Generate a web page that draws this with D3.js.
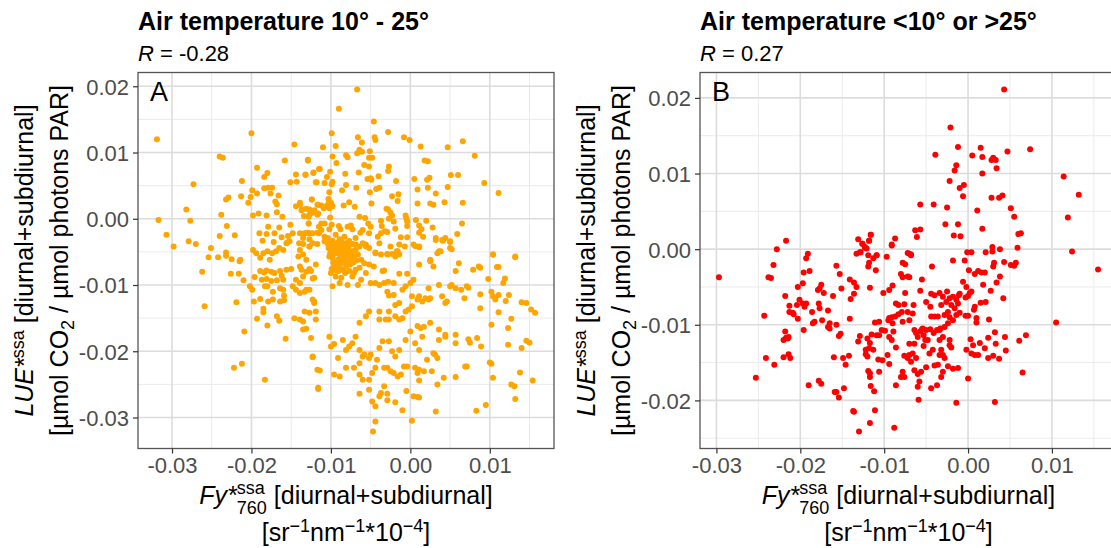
<!DOCTYPE html>
<html>
<head>
<meta charset="utf-8">
<script src="https://cdn.jsdelivr.net/npm/d3@7"></script>
<style>
  body { margin: 0; background: #fff; }
  svg { font-family: "Liberation Sans", Arial, sans-serif; }
</style>
</head>
<body>
<svg id="chart" width="1111" height="548"></svg>
<script>
// tick values and labels
const xTicks = [-0.03, -0.02, -0.01, 0, 0.01];
const xMinor = [-0.025, -0.015, -0.005, 0.005, 0.015];
const yTicksA = [-0.03, -0.02, -0.01, 0, 0.01, 0.02];
const yTicksB = [-0.02, -0.01, 0, 0.01, 0.02];
const yMinor = [-0.025, -0.015, -0.005, 0.005, 0.015];
const titles = ["Air temperature 10° - 25°", "Air temperature <10° or >25°"];
const rValues = ["-0.28", "0.27"];
const letters = ["A", "B"];

// panel A: [Fy*, LUE*]
const pointsA = [
  [-0.0319,0.0120],[-0.0317,-0.0002],[-0.0307,-0.0024],[-0.0282,0.0014],[-0.0277,-0.0003],[-0.0273,0.0052],
  [-0.0240,0.0094],[-0.0236,0.0092],[-0.0238,0.0006],[-0.0232,0.0029],[-0.0229,0.0032],[-0.0240,-0.0026],
  [-0.0231,-0.0011],[-0.0221,-0.0025],[-0.0213,0.0034],[-0.0212,0.0057],[-0.0200,0.0129],[-0.0204,0.0024],
  [-0.0201,0.0033],[-0.0199,0.0043],[-0.0193,0.0077],[-0.0198,0.0005],[-0.0191,0.0008],[-0.0193,0.0038],
  [-0.0184,0.0063],[-0.0180,0.0069],[-0.0184,0.0046],[-0.0179,0.0047],[-0.0174,0.0047],[-0.0176,0.0038],
  [-0.0170,0.0026],[-0.0166,0.0035],[-0.0168,0.0022],[-0.0181,0.0005],[-0.0168,0.0010],[-0.0161,0.0003],
  [-0.0179,-0.0012],[-0.0190,-0.0022],[-0.0181,-0.0023],[-0.0165,-0.0013],[-0.0171,-0.0022],[-0.0186,-0.0033],
  [-0.0172,-0.0035],[-0.0162,-0.0028],[-0.0154,-0.0026],[-0.0155,-0.0036],[-0.0158,0.0088],[-0.0146,0.0112],
  [-0.0144,0.0067],[-0.0143,0.0056],[-0.0151,0.0055],[-0.0132,0.0066],[-0.0129,0.0089],[-0.0122,0.0069],
  [-0.0119,0.0055],[-0.0115,0.0075],[-0.0124,0.0029],[-0.0144,0.0019],[-0.0139,0.0021],[-0.0137,0.0013],
  [-0.0127,0.0014],[-0.0123,0.0009],[-0.0117,0.0021],[-0.0117,0.0006],[-0.0128,0.0003],[-0.0121,0.0012],
  [-0.0151,-0.0009],[-0.0148,-0.0022],[-0.0128,-0.0007],[-0.0139,-0.0022],[-0.0133,-0.0022],[-0.0128,-0.0022],
  [-0.0123,-0.0022],[-0.0117,-0.0021],[-0.0135,-0.0029],[-0.0127,-0.0031],[-0.0140,-0.0037],[-0.0135,-0.0038],
  [-0.0127,-0.0042],[-0.0117,-0.0038],
  [-0.0067,0.0195],[-0.0090,0.0166],[-0.0046,0.0147],[-0.0099,0.0129],[-0.0028,0.0131],[-0.0066,0.0123],
  [-0.0061,0.0115],[-0.0045,0.0123],[-0.0044,0.0119],[-0.0008,0.0123],[-0.0001,0.0119],[0.0013,0.0109],
  [0.0047,0.0108],[0.0066,0.0117],[0.0081,0.0095],[-0.0110,0.0108],[-0.0094,0.0110],[-0.0098,0.0094],
  [-0.0129,0.0088],[-0.0081,0.0096],[-0.0079,0.0093],[-0.0067,0.0099],[-0.0064,0.0104],[-0.0061,0.0101],
  [-0.0051,0.0102],[-0.0052,0.0092],[-0.0048,0.0092],[-0.0093,0.0084],[-0.0058,0.0081],[-0.0052,0.0079],
  [-0.0027,0.0079],[-0.0028,0.0072],[0.0018,0.0088],[0.0022,0.0087],[-0.0132,0.0067],[-0.0122,0.0070],
  [-0.0114,0.0075],[-0.0118,0.0055],[-0.0105,0.0063],[-0.0101,0.0071],[-0.0108,0.0054],[-0.0099,0.0052],
  [-0.0098,0.0056],[-0.0082,0.0068],[-0.0065,0.0070],[-0.0081,0.0051],[-0.0068,0.0047],[-0.0086,0.0043],
  [-0.0054,0.0060],[-0.0050,0.0061],[-0.0049,0.0059],[-0.0040,0.0064],[-0.0018,0.0057],[-0.0051,0.0040],
  [-0.0043,0.0045],[-0.0039,0.0047],[0.0005,0.0060],[0.0021,0.0059],[0.0024,0.0062],[0.0009,0.0044],
  [0.0022,0.0047],[0.0032,0.0038],[0.0047,0.0048],[0.0051,0.0066],[0.0060,0.0066],[0.0093,0.0054],
  [0.0111,0.0039],[-0.0102,0.0040],[-0.0103,0.0030],[-0.0124,0.0029],[-0.0139,0.0024],[-0.0136,0.0014],
  [-0.0131,0.0015],[-0.0121,0.0013],[-0.0116,0.0021],[-0.0112,0.0020],[-0.0109,0.0016],[-0.0106,0.0019],
  [-0.0103,0.0023],[-0.0100,0.0024],[-0.0098,0.0019],[-0.0102,0.0016],[-0.0084,0.0020],[-0.0077,0.0025],
  [-0.0070,0.0018],[-0.0049,0.0023],[-0.0023,0.0034],[-0.0015,0.0037],[-0.0016,0.0027],[-0.0030,0.0015],
  [-0.0028,0.0014],[-0.0025,0.0009],[-0.0023,0.0005],[-0.0027,0.0000],[0.0009,0.0023],[0.0025,0.0023],
  [0.0029,0.0021],[0.0043,0.0025],[0.0066,0.0024],[-0.0006,0.0005],[-0.0005,0.0000],[-0.0101,0.0002],
  [-0.0127,0.0006],[-0.0134,0.0004],[-0.0116,0.0008],[-0.0064,0.0003],[-0.0057,0.0001],[-0.0053,-0.0007],
  [-0.0050,-0.0012],[-0.0037,-0.0003],[-0.0036,-0.0011],[-0.0021,-0.0004],[-0.0004,-0.0004],[-0.0004,-0.0011],
  [0.0007,-0.0002],[0.0011,-0.0010],[0.0014,-0.0016],[0.0020,-0.0003],[0.0028,-0.0013],[0.0065,-0.0007],
  [-0.0128,-0.0007],[-0.0115,-0.0012],[-0.0112,-0.0007],[-0.0108,-0.0007],[-0.0099,-0.0009],[-0.0090,-0.0011],
  [-0.0088,-0.0016],[-0.0079,-0.0012],[-0.0073,-0.0016],[-0.0075,-0.0010],[-0.0063,-0.0021],[-0.0060,-0.0017],
  [-0.0052,-0.0022],[-0.0041,-0.0027],[-0.0037,-0.0022],[-0.0032,-0.0019],[-0.0029,-0.0020],[-0.0019,-0.0015],
  [-0.0012,-0.0028],[-0.0004,-0.0028],[0.0011,-0.0021],[0.0016,-0.0027],[0.0006,-0.0041],[0.0011,-0.0043],
  [0.0032,-0.0029],[0.0041,-0.0033],[0.0044,-0.0029],[0.0050,-0.0035],[0.0059,-0.0023],[-0.0135,-0.0023],
  [-0.0130,-0.0021],[-0.0127,-0.0022],[-0.0115,-0.0022],[-0.0112,-0.0017],[-0.0102,-0.0016],
  [0.0025,-0.0062],[0.0036,-0.0049],[0.0052,-0.0046],[0.0104,-0.0054],[0.0132,-0.0057],[-0.0017,-0.0049],
  [-0.0014,-0.0054],[-0.0029,-0.0053],[-0.0044,-0.0051],[-0.0056,-0.0042],[-0.0069,-0.0039],[-0.0081,-0.0042],
  [-0.0098,-0.0039],
  [-0.0298,-0.0042],[-0.0279,-0.0034],[-0.0270,-0.0038],[-0.0251,-0.0044],[-0.0254,-0.0058],[-0.0242,-0.0058],
  [-0.0232,-0.0051],[-0.0232,-0.0056],[-0.0225,-0.0061],[-0.0215,-0.0064],[-0.0214,-0.0062],[-0.0262,-0.0080],
  [-0.0226,-0.0083],[-0.0216,-0.0083],[-0.0210,-0.0093],[-0.0259,-0.0132],[-0.0219,-0.0126],[-0.0209,-0.0170],
  [-0.0222,-0.0225],[-0.0212,-0.0219],[-0.0183,-0.0243],[-0.0202,-0.0102],[-0.0199,-0.0107],
  [-0.0198,-0.0047],[-0.0194,-0.0052],[-0.0189,-0.0059],[-0.0185,-0.0052],[-0.0180,-0.0049],[-0.0177,-0.0062],
  [-0.0174,-0.0052],[-0.0169,-0.0049],[-0.0165,-0.0044],[-0.0160,-0.0047],[-0.0156,-0.0037],[-0.0152,-0.0034],
  [-0.0196,-0.0088],[-0.0189,-0.0079],[-0.0184,-0.0081],[-0.0181,-0.0078],[-0.0175,-0.0080],[-0.0171,-0.0082],
  [-0.0164,-0.0079],[-0.0156,-0.0077],[-0.0150,-0.0076],[-0.0187,-0.0092],[-0.0181,-0.0091],[-0.0175,-0.0094],
  [-0.0168,-0.0093],[-0.0162,-0.0086],[-0.0160,-0.0092],[-0.0183,-0.0102],[-0.0180,-0.0102],[-0.0173,-0.0110],
  [-0.0164,-0.0105],[-0.0160,-0.0107],[-0.0159,-0.0116],[-0.0148,-0.0102],[-0.0197,-0.0125],[-0.0189,-0.0121],
  [-0.0179,-0.0125],[-0.0173,-0.0122],[-0.0164,-0.0125],[-0.0159,-0.0123],[-0.0185,-0.0136],[-0.0185,-0.0141],
  [-0.0193,-0.0151],[-0.0180,-0.0161],[-0.0168,-0.0147],[-0.0165,-0.0154],[-0.0157,-0.0181],[-0.0146,-0.0150],
  [-0.0139,-0.0152],[-0.0135,-0.0167],[-0.0144,-0.0092],[-0.0139,-0.0097],[-0.0135,-0.0087],[-0.0131,-0.0080],
  [-0.0127,-0.0076],[-0.0123,-0.0090],[-0.0139,-0.0072],[-0.0141,-0.0057],[-0.0131,-0.0062],[-0.0127,-0.0042],
  [-0.0123,-0.0037],[-0.0144,-0.0107],[-0.0139,-0.0112],[-0.0133,-0.0110],[-0.0127,-0.0107],[-0.0123,-0.0122],
  [-0.0121,-0.0127],[-0.0119,-0.0140],[-0.0125,-0.0180],[-0.0123,-0.0208],[-0.0117,-0.0228],[-0.0116,-0.0255],
  [-0.0108,-0.0034],[-0.0104,-0.0037],[-0.0100,-0.0039],[-0.0096,-0.0038],[-0.0094,-0.0044],[-0.0089,-0.0042],
  [-0.0085,-0.0039],[-0.0081,-0.0037],[-0.0077,-0.0034],[-0.0073,-0.0038],[-0.0098,-0.0049],[-0.0094,-0.0052],
  [-0.0089,-0.0054],[-0.0085,-0.0049],[-0.0081,-0.0047],[-0.0077,-0.0052],[-0.0073,-0.0049],[-0.0069,-0.0047],
  [-0.0064,-0.0042],[-0.0060,-0.0037],[-0.0056,-0.0039],[-0.0102,-0.0057],[-0.0098,-0.0059],[-0.0091,-0.0062],
  [-0.0087,-0.0067],[-0.0083,-0.0064],[-0.0079,-0.0059],[-0.0075,-0.0062],[-0.0071,-0.0057],[-0.0066,-0.0054],
  [-0.0062,-0.0062],[-0.0058,-0.0067],[-0.0096,-0.0072],[-0.0089,-0.0074],[-0.0085,-0.0077],[-0.0081,-0.0072],
  [-0.0077,-0.0079],[-0.0069,-0.0077],[-0.0064,-0.0074],[-0.0056,-0.0082],[-0.0100,-0.0082],[-0.0094,-0.0087],
  [-0.0087,-0.0089],[-0.0073,-0.0087],[-0.0062,-0.0092],[-0.0089,-0.0097],[-0.0079,-0.0100],[-0.0066,-0.0100],
  [-0.0098,-0.0102],[-0.0103,-0.0044],[-0.0099,-0.0046],[-0.0094,-0.0042],[-0.0090,-0.0048],[-0.0086,-0.0046],
  [-0.0082,-0.0054],[-0.0078,-0.0043],[-0.0074,-0.0056],[-0.0091,-0.0036],[-0.0087,-0.0034],[-0.0083,-0.0043],
  [-0.0101,-0.0052],[-0.0097,-0.0066],[-0.0093,-0.0067],[-0.0089,-0.0061],[-0.0084,-0.0058],[-0.0080,-0.0067],
  [-0.0076,-0.0069],[-0.0072,-0.0066],[-0.0068,-0.0063],[-0.0090,-0.0079],[-0.0094,-0.0078],[-0.0099,-0.0076],
  [-0.0082,-0.0082],[-0.0071,-0.0082],[-0.0104,-0.0029],[-0.0098,-0.0033],[-0.0089,-0.0031],[-0.0083,-0.0027],
  [-0.0077,-0.0034],[-0.0069,-0.0029],[-0.0094,-0.0024],[-0.0108,-0.0027],
  [-0.0039,-0.0037],[-0.0025,-0.0042],[-0.0014,-0.0039],[-0.0007,-0.0042],[0.0004,-0.0039],[0.0011,-0.0042],
  [0.0032,-0.0032],[0.0040,-0.0032],[0.0050,-0.0034],[0.0050,-0.0044],[0.0034,-0.0052],[0.0038,-0.0049],
  [-0.0052,-0.0044],[-0.0044,-0.0052],[-0.0037,-0.0054],[-0.0029,-0.0054],[-0.0023,-0.0053],[-0.0016,-0.0049],
  [-0.0019,-0.0057],[-0.0035,-0.0079],[-0.0033,-0.0078],[-0.0028,-0.0095],[-0.0021,-0.0097],[-0.0014,-0.0083],
  [-0.0004,-0.0083],[0.0004,-0.0092],[0.0011,-0.0069],[0.0025,-0.0064],[0.0029,-0.0072],[0.0061,-0.0067],
  [0.0086,-0.0072],[0.0088,-0.0074],[0.0109,-0.0073],[0.0111,-0.0073],[0.0104,-0.0054],[0.0132,-0.0058],
  [0.0057,-0.0079],[0.0079,-0.0077],[-0.0052,-0.0069],[-0.0046,-0.0072],[-0.0050,-0.0097],[-0.0044,-0.0097],
  [-0.0039,-0.0100],[-0.0033,-0.0097],[-0.0029,-0.0110],[-0.0027,-0.0116],[-0.0021,-0.0115],[-0.0019,-0.0130],
  [-0.0014,-0.0127],[-0.0010,-0.0107],[-0.0006,-0.0102],[0.0000,-0.0097],[0.0002,-0.0117],[0.0009,-0.0122],
  [0.0011,-0.0117],[0.0015,-0.0125],[0.0019,-0.0120],[0.0023,-0.0122],[0.0025,-0.0120],[0.0023,-0.0105],
  [0.0036,-0.0100],[0.0040,-0.0117],[0.0044,-0.0127],[0.0046,-0.0125],[0.0050,-0.0102],[0.0052,-0.0100],
  [0.0057,-0.0105],[0.0064,-0.0107],[0.0071,-0.0102],[0.0073,-0.0104],[0.0068,-0.0120],[0.0088,-0.0114],
  [0.0088,-0.0135],[0.0102,-0.0110],[0.0104,-0.0117],[0.0107,-0.0122],[0.0111,-0.0115],[0.0119,-0.0090],
  [0.0117,-0.0097],[0.0098,-0.0091],[0.0124,-0.0115],[0.0120,-0.0124],[0.0140,-0.0126],[0.0146,-0.0127],
  [0.0152,-0.0137],[0.0157,-0.0142],
  [-0.0064,-0.0157],[-0.0056,-0.0147],[-0.0052,-0.0140],[-0.0039,-0.0152],[-0.0031,-0.0152],[-0.0027,-0.0152],
  [-0.0039,-0.0140],[-0.0027,-0.0140],[-0.0019,-0.0147],[-0.0014,-0.0152],[-0.0010,-0.0150],[-0.0006,-0.0140],
  [-0.0002,-0.0137],[0.0002,-0.0132],[0.0009,-0.0162],[0.0013,-0.0165],[0.0017,-0.0163],[0.0025,-0.0157],
  [0.0036,-0.0167],[0.0044,-0.0175],[0.0057,-0.0175],[0.0073,-0.0182],[0.0075,-0.0187],[0.0084,-0.0180],
  [0.0089,-0.0193],[0.0102,-0.0160],[0.0111,-0.0141],[0.0123,-0.0165],[0.0127,-0.0151],[0.0123,-0.0190],
  [0.0140,-0.0195],[0.0146,-0.0184],[0.0150,-0.0187],
  [-0.0102,-0.0178],[-0.0100,-0.0193],[-0.0096,-0.0189],[-0.0085,-0.0183],[-0.0081,-0.0198],[-0.0077,-0.0193],
  [-0.0073,-0.0188],[-0.0069,-0.0178],[-0.0064,-0.0198],[-0.0058,-0.0205],[-0.0052,-0.0210],[-0.0050,-0.0205],
  [-0.0039,-0.0195],[-0.0035,-0.0185],[-0.0027,-0.0185],[-0.0023,-0.0200],[-0.0019,-0.0208],[-0.0014,-0.0198],
  [-0.0006,-0.0183],[0.0000,-0.0170],[0.0006,-0.0188],[0.0011,-0.0198],[0.0015,-0.0178],[0.0021,-0.0213],
  [0.0029,-0.0203],[0.0031,-0.0205],[0.0034,-0.0210],[0.0036,-0.0183],[0.0044,-0.0178],[0.0057,-0.0188],
  [0.0069,-0.0223],[0.0071,-0.0223],[0.0100,-0.0217],[0.0102,-0.0219],[0.0104,-0.0240],[0.0138,-0.0232],
  [-0.0123,-0.0209],[-0.0114,-0.0229],[-0.0096,-0.0235],[-0.0089,-0.0238],[-0.0091,-0.0210],[-0.0081,-0.0225],
  [-0.0071,-0.0225],[-0.0064,-0.0218],[-0.0060,-0.0208],[-0.0064,-0.0235],[-0.0060,-0.0243],[-0.0052,-0.0243],
  [-0.0048,-0.0233],[-0.0044,-0.0225],[-0.0042,-0.0213],[-0.0033,-0.0225],[-0.0029,-0.0225],[-0.0025,-0.0230],
  [-0.0021,-0.0233],[-0.0016,-0.0238],[-0.0012,-0.0235],[-0.0008,-0.0223],[-0.0004,-0.0223],[0.0006,-0.0225],
  [0.0009,-0.0233],[0.0011,-0.0228],[0.0011,-0.0244],[0.0017,-0.0230],[0.0027,-0.0230],[0.0042,-0.0240],
  [0.0057,-0.0239],[0.0034,-0.0250],[0.0127,-0.0250],[0.0131,-0.0253],[0.0154,-0.0244],
  [-0.0116,-0.0257],[-0.0064,-0.0264],[-0.0052,-0.0258],[-0.0048,-0.0276],[-0.0044,-0.0283],[-0.0039,-0.0268],
  [-0.0037,-0.0263],[-0.0033,-0.0253],[-0.0029,-0.0264],[-0.0029,-0.0274],[-0.0019,-0.0277],[-0.0005,-0.0260],
  [0.0004,-0.0268],[0.0009,-0.0269],[0.0011,-0.0270],[0.0032,-0.0291],[0.0083,-0.0290],[0.0095,-0.0281],
  [0.0132,-0.0272],[-0.0010,-0.0289],[0.0002,-0.0305],[-0.0044,-0.0306],[-0.0047,-0.0321],
  [-0.0131,-0.0107],[-0.0121,-0.0125],[-0.0133,-0.0140],[-0.0127,-0.0142],[-0.0119,-0.0152],[-0.0135,-0.0155],
  [-0.0131,-0.0166],[-0.0137,-0.0077],[-0.0125,-0.0079],[-0.0119,-0.0069],[-0.0121,-0.0089],[-0.0135,-0.0054],
  [-0.0139,-0.0047]
];

// panel B: [Fy*, LUE*]
const pointsB = [
  [-0.0228,0.0000],[-0.0217,0.0011],[-0.0191,-0.0006],[-0.0131,0.0013],[-0.0126,0.0007],[-0.0123,0.0003],
  [-0.0118,0.0011],[-0.0116,0.0019],[-0.0133,-0.0006],[-0.0128,-0.0004],[-0.0109,-0.0008],
  [0.0043,0.0211],[-0.0021,0.0161],[-0.0012,0.0135],[-0.0039,0.0125],[0.0005,0.0124],[0.0015,0.0134],
  [0.0017,0.0122],[0.0028,0.0118],[0.0030,0.0121],[0.0033,0.0118],[0.0047,0.0129],[0.0074,0.0132],
  [-0.0014,0.0111],[-0.0016,0.0104],[0.0034,0.0107],[0.0017,0.0100],[0.0114,0.0096],[-0.0022,0.0090],
  [-0.0010,0.0081],[-0.0005,0.0085],[-0.0006,0.0070],[0.0028,0.0068],[0.0037,0.0068],[0.0041,0.0071],
  [0.0132,0.0072],[-0.0057,0.0059],[-0.0041,0.0059],[-0.0025,0.0055],[0.0011,0.0051],[0.0051,0.0054],
  [0.0055,0.0043],[0.0119,0.0042],[-0.0027,0.0033],[-0.0012,0.0033],[0.0017,0.0027],[-0.0063,0.0025],
  [-0.0057,0.0026],[-0.0061,0.0016],[-0.0017,0.0018],[-0.0009,0.0017],[0.0060,0.0020],[0.0063,0.0021],
  [-0.0116,0.0019],[-0.0118,0.0011],[-0.0087,0.0014],[-0.0091,0.0005],[-0.0126,0.0007],[-0.0123,0.0002],
  [-0.0129,-0.0004],[-0.0109,-0.0008],[-0.0097,-0.0010],[-0.0072,-0.0005],[-0.0068,-0.0007],[-0.0001,-0.0004],
  [0.0004,-0.0004],[0.0021,-0.0004],[0.0029,0.0003],[0.0029,-0.0003],[0.0038,0.0000],[0.0059,0.0002],
  [0.0124,-0.0003],
  [-0.0297,-0.0037],[-0.0232,-0.0021],[-0.0238,-0.0037],[-0.0235,-0.0038],[-0.0193,-0.0012],[-0.0189,-0.0029],
  [-0.0196,-0.0031],[-0.0197,-0.0045],[-0.0203,-0.0050],[-0.0218,-0.0062],[-0.0213,-0.0075],[-0.0204,-0.0074],
  [-0.0213,-0.0083],[-0.0209,-0.0084],[-0.0208,-0.0086],[-0.0203,-0.0092],[-0.0201,-0.0067],[-0.0197,-0.0072],
  [-0.0195,-0.0076],[-0.0193,-0.0072],[-0.0243,-0.0088],[-0.0218,-0.0109],[-0.0217,-0.0117],[-0.0220,-0.0120],
  [-0.0215,-0.0118],[-0.0214,-0.0116],[-0.0241,-0.0144],[-0.0231,-0.0153],[-0.0220,-0.0143],[-0.0214,-0.0139],
  [-0.0212,-0.0144],[-0.0253,-0.0170],[-0.0196,-0.0107],[-0.0190,-0.0180],[-0.0186,-0.0083],[-0.0183,-0.0096],
  [-0.0185,-0.0098],[-0.0179,-0.0054],[-0.0175,-0.0047],[-0.0177,-0.0052],[-0.0172,-0.0058],[-0.0178,-0.0072],
  [-0.0177,-0.0078],[-0.0174,-0.0094],[-0.0178,-0.0174],[-0.0175,-0.0178],[-0.0167,-0.0081],[-0.0167,-0.0103],
  [-0.0165,-0.0105],[-0.0165,-0.0098],[-0.0161,-0.0062],[-0.0157,-0.0022],[-0.0153,-0.0033],[-0.0151,-0.0052],
  [-0.0157,-0.0100],[-0.0152,-0.0112],[-0.0154,-0.0115],[-0.0160,-0.0143],[-0.0159,-0.0189],[-0.0157,-0.0189],
  [-0.0154,-0.0196],[-0.0148,-0.0184],[-0.0149,-0.0144],[-0.0146,-0.0153],[-0.0142,-0.0141],[-0.0141,-0.0040],
  [-0.0136,-0.0044],[-0.0133,-0.0050],[-0.0136,-0.0059],[-0.0140,-0.0066],[-0.0141,-0.0092],[-0.0137,-0.0214],
  [-0.0136,-0.0215],[-0.0130,-0.0241],[-0.0117,-0.0230],[-0.0111,-0.0213],[-0.0116,-0.0181],[-0.0112,-0.0188],
  [-0.0131,-0.0122],[-0.0129,-0.0115],[-0.0120,-0.0118],[-0.0115,-0.0113],[-0.0117,-0.0124],[-0.0118,-0.0131],
  [-0.0113,-0.0133],[-0.0109,-0.0114],[-0.0106,-0.0114],[-0.0122,-0.0133],[-0.0122,-0.0139],[-0.0120,-0.0142],
  [-0.0119,-0.0161],[-0.0117,-0.0164],[-0.0117,-0.0169],[-0.0107,-0.0146],[-0.0106,-0.0162],[-0.0111,-0.0097],
  [-0.0106,-0.0096],[-0.0121,0.0001],[-0.0119,-0.0008],[-0.0113,-0.0012],[-0.0119,-0.0023],[-0.0118,-0.0018],
  [-0.0110,-0.0028],[-0.0117,-0.0051],
  [-0.0091,0.0006],[-0.0070,-0.0006],[-0.0068,-0.0008],[-0.0078,-0.0018],[-0.0075,-0.0020],[-0.0043,-0.0023],
  [-0.0080,-0.0033],[-0.0078,-0.0037],[-0.0072,-0.0036],[-0.0070,-0.0037],[-0.0055,-0.0040],[-0.0090,-0.0048],
  [-0.0094,-0.0054],[-0.0101,-0.0058],[-0.0075,-0.0058],[-0.0057,-0.0055],[-0.0086,-0.0072],[-0.0083,-0.0074],
  [-0.0076,-0.0073],[-0.0065,-0.0074],[-0.0050,-0.0070],[-0.0045,-0.0076],[-0.0095,-0.0094],[-0.0091,-0.0090],
  [-0.0087,-0.0089],[-0.0083,-0.0086],[-0.0079,-0.0083],[-0.0072,-0.0083],[-0.0066,-0.0085],[-0.0078,-0.0096],
  [-0.0070,-0.0094],[-0.0090,-0.0098],[-0.0094,-0.0091],[-0.0103,-0.0107],[-0.0099,-0.0108],[-0.0094,-0.0116],
  [-0.0089,-0.0109],[-0.0091,-0.0120],[-0.0086,-0.0130],[-0.0096,-0.0140],[-0.0094,-0.0152],[-0.0102,-0.0147],
  [-0.0076,-0.0141],[-0.0072,-0.0144],[-0.0070,-0.0140],[-0.0066,-0.0138],[-0.0068,-0.0149],[-0.0062,-0.0144],
  [-0.0064,-0.0107],[-0.0062,-0.0111],[-0.0060,-0.0116],[-0.0057,-0.0109],[-0.0055,-0.0106],[-0.0053,-0.0114],
  [-0.0050,-0.0107],[-0.0045,-0.0106],[-0.0041,-0.0111],[-0.0037,-0.0107],[-0.0033,-0.0105],[-0.0051,-0.0120],
  [-0.0053,-0.0128],[-0.0064,-0.0125],[-0.0070,-0.0125],[-0.0078,-0.0162],[-0.0076,-0.0169],[-0.0080,-0.0169],
  [-0.0064,-0.0160],[-0.0060,-0.0165],[-0.0056,-0.0162],[-0.0050,-0.0156],[-0.0040,-0.0154],[-0.0036,-0.0153],
  [-0.0032,-0.0169],[-0.0030,-0.0162],[-0.0024,-0.0155],[-0.0018,-0.0158],[-0.0012,-0.0157],[-0.0086,-0.0180],
  [-0.0060,-0.0182],[-0.0058,-0.0175],[-0.0044,-0.0184],[-0.0037,-0.0180],[-0.0059,-0.0199],[-0.0014,-0.0203],
  [0.0000,-0.0171],[0.0032,-0.0202],[0.0065,-0.0163],[-0.0088,-0.0236],
  [-0.0044,-0.0059],[-0.0040,-0.0061],[-0.0034,-0.0058],[-0.0030,-0.0063],[-0.0025,-0.0056],[-0.0022,-0.0065],
  [-0.0018,-0.0063],[-0.0014,-0.0067],[-0.0010,-0.0059],[-0.0026,-0.0070],[-0.0020,-0.0074],[-0.0016,-0.0078],
  [-0.0012,-0.0072],[-0.0024,-0.0083],[-0.0028,-0.0087],[-0.0022,-0.0090],[-0.0018,-0.0094],[-0.0024,-0.0098],
  [-0.0010,-0.0084],[-0.0014,-0.0087],[-0.0032,-0.0074],[-0.0036,-0.0089],[-0.0040,-0.0089],[-0.0044,-0.0089],
  [-0.0028,-0.0103],[-0.0034,-0.0107],[-0.0030,-0.0116],[-0.0022,-0.0120],[-0.0034,-0.0120],[-0.0032,-0.0133],
  [-0.0022,-0.0127],[-0.0020,-0.0130],[-0.0034,-0.0140],[-0.0028,-0.0144],[-0.0030,-0.0140],[-0.0046,-0.0138],
  [-0.0042,-0.0133],[-0.0048,-0.0120],[-0.0054,-0.0105],
  [-0.0018,-0.0015],[-0.0004,-0.0015],[0.0001,-0.0028],[0.0008,-0.0033],[0.0012,-0.0029],[0.0016,-0.0031],
  [0.0020,-0.0031],[0.0031,-0.0018],[0.0030,-0.0023],[0.0043,-0.0017],[0.0051,-0.0021],[0.0055,-0.0022],
  [0.0057,-0.0018],[0.0038,-0.0036],[0.0034,-0.0044],[0.0027,-0.0055],[0.0018,-0.0047],[0.0042,-0.0065],
  [-0.0006,-0.0043],[-0.0002,-0.0050],[0.0002,-0.0058],[0.0004,-0.0056],[0.0000,-0.0062],[-0.0003,-0.0064],
  [0.0008,-0.0076],[0.0007,-0.0080],[0.0015,-0.0071],[0.0021,-0.0070],[0.0010,-0.0091],[0.0010,-0.0097],
  [-0.0003,-0.0088],[0.0000,-0.0088],[0.0025,-0.0093],[-0.0011,-0.0061],[0.0003,-0.0119],[-0.0002,-0.0133],
  [0.0006,-0.0127],[0.0008,-0.0140],[0.0014,-0.0124],[0.0020,-0.0131],[0.0024,-0.0117],[0.0032,-0.0110],
  [0.0033,-0.0125],[0.0037,-0.0145],[0.0024,-0.0144],[0.0030,-0.0141],[0.0044,-0.0116],[0.0045,-0.0134],
  [0.0061,-0.0121],[0.0069,-0.0114],[0.0105,-0.0097],[0.0155,-0.0027],[0.0012,-0.0140],[0.0004,-0.0138]
];

const W = 1111;
const TOP = 72.5, BOTTOM = 448.5;
const svg = d3.select("#chart");
const fmt = v => v.toFixed(2);

// ggplot-like 5% padding around the data range
var padded = (vals) => {
  var ext = d3.extent(vals);
  var pad = (ext[1] - ext[0]) * 0.05;
  return [ext[0] - pad, ext[1] + pad];
};

// one text line made of pieces; supports italics, sup, sub and stacked sup/sub
var richText = (sel, parts, size) => {
  var t = sel.append("text").attr("font-size", size).attr("fill", "#000");
  var small = size * 0.72;
  var shift = 0;
  parts.forEach(p => {
    if (p.stack) {
      var s1 = t.append("tspan").attr("font-size", small).attr("dy", -size * 0.42 - shift).text(p.stack[0]);
      var w1 = s1.node().getComputedTextLength();
      t.append("tspan").attr("font-size", small).attr("dx", -w1).attr("dy", size * 0.8).text(p.stack[1]);
      shift = size * 0.38;
    } else {
      var ts = t.append("tspan").text(p.t);
      var dy = 0;
      if (p.sup) { ts.attr("font-size", small); dy = -size * 0.38; }
      if (p.sub) { ts.attr("font-size", small); dy = size * 0.25; }
      ts.attr("dy", dy - shift);
      shift = dy;
      if (p.it) ts.attr("font-style", "italic");
    }
  });
  return t;
};

// after a stacked sup/sub, push the next piece past the wider of the two
var fixStackPad = (t) => {
  var spans = t.selectAll("tspan").nodes();
  for (var i = 1; i < spans.length - 1; i++) {
    if (spans[i].getAttribute("dx") && spans[i].getAttribute("dx") < 0) {
      var w1 = spans[i - 1].getComputedTextLength();
      var w2 = spans[i].getComputedTextLength();
      if (w1 > w2) d3.select(spans[i + 1]).attr("dx", w1 - w2);
    }
  }
};

var panels = [
  { pts: pointsA, yTicks: yTicksA, color: "#FFA500", left: 138, right: 554, ylab1: 33, ylab2: 68 },
  { pts: pointsB, yTicks: yTicksB, color: "#FF0000", left: 700, right: 1117, ylab1: 595, ylab2: 630 }
];

panels.forEach((p, i) => {
  var x = d3.scaleLinear().domain(padded(p.pts.map(d => d[0]))).range([p.left, p.right]);
  var y = d3.scaleLinear().domain(padded(p.pts.map(d => d[1]))).range([BOTTOM, TOP]);
  var g = svg.append("g");

  g.append("rect")
    .attr("x", p.left).attr("y", TOP)
    .attr("width", p.right - p.left).attr("height", BOTTOM - TOP)
    .attr("fill", "#fff");

  // minor grid
  g.selectAll("line.vmin").data(xMinor.filter(v => v > x.domain()[0] && v < x.domain()[1])).enter()
    .append("line").attr("x1", d => x(d)).attr("x2", d => x(d)).attr("y1", TOP).attr("y2", BOTTOM)
    .attr("stroke", "#ebebeb").attr("stroke-width", 1);
  g.selectAll("line.hmin").data(yMinor.filter(v => v > y.domain()[0] && v < y.domain()[1])).enter()
    .append("line").attr("y1", d => y(d)).attr("y2", d => y(d)).attr("x1", p.left).attr("x2", p.right)
    .attr("stroke", "#ebebeb").attr("stroke-width", 1);
  // major grid
  g.selectAll("line.vmaj").data(xTicks).enter()
    .append("line").attr("x1", d => x(d)).attr("x2", d => x(d)).attr("y1", TOP).attr("y2", BOTTOM)
    .attr("stroke", "#dcdcdc").attr("stroke-width", 1.6);
  g.selectAll("line.hmaj").data(p.yTicks).enter()
    .append("line").attr("y1", d => y(d)).attr("y2", d => y(d)).attr("x1", p.left).attr("x2", p.right)
    .attr("stroke", "#dcdcdc").attr("stroke-width", 1.6);

  g.selectAll("circle").data(p.pts).enter()
    .append("circle")
    .attr("cx", d => x(d[0])).attr("cy", d => y(d[1]))
    .attr("r", 3).attr("fill", p.color);

  g.append("rect")
    .attr("x", p.left).attr("y", TOP)
    .attr("width", p.right - p.left).attr("height", BOTTOM - TOP)
    .attr("fill", "none").attr("stroke", "#555").attr("stroke-width", 1.3);

  var xAxis = g.append("g").attr("transform", "translate(0," + BOTTOM + ")")
    .call(d3.axisBottom(x).tickValues(xTicks).tickFormat(fmt).tickSize(5).tickPadding(3));
  var yAxis = g.append("g").attr("transform", "translate(" + p.left + ",0)")
    .call(d3.axisLeft(y).tickValues(p.yTicks).tickFormat(fmt).tickSize(5).tickPadding(4));
  [xAxis, yAxis].forEach(a => {
    a.select(".domain").remove();
    a.selectAll("line").attr("stroke", "#333").attr("stroke-width", 1.2);
    a.selectAll("text").attr("fill", "#4d4d4d").attr("font-size", 22)
      .attr("font-family", "Liberation Sans, Arial, sans-serif");
  });
  xAxis.selectAll("text").attr("dy", "0.74em");
  yAxis.selectAll("text").attr("dy", "0.36em");

  // panel letter
  g.append("text").attr("x", p.left + 12).attr("y", TOP + 28)
    .attr("font-size", 27).text(letters[i]);

  // titles
  g.append("text").attr("x", p.left).attr("y", 30)
    .attr("font-size", 25).attr("font-weight", "bold").text(titles[i]);
  var rt = g.append("text").attr("x", p.left).attr("y", 61).attr("font-size", 22);
  rt.append("tspan").attr("font-style", "italic").text("R");
  rt.append("tspan").text(" = " + rValues[i]);

  // x axis title
  var cx = (p.left + Math.min(p.right, W + 6)) / 2;
  var xl1 = richText(g, [{ t: "Fy*", it: true }, { stack: ["ssa", "760"] }, { t: " [diurnal+subdiurnal]" }], 25)
    .attr("x", cx).attr("y", 504).attr("text-anchor", "middle");
  fixStackPad(xl1);
  richText(g, [{ t: "[sr" }, { t: "−1", sup: true }, { t: "nm" }, { t: "−1", sup: true }, { t: "*10" },
    { t: "−4", sup: true }, { t: "]" }], 25)
    .attr("x", cx).attr("y", 541).attr("text-anchor", "middle");

  // y axis title
  var cy = (TOP + BOTTOM) / 2;
  richText(g, [{ t: "LUE*", it: true }, { t: "ssa", sup: true }, { t: " [diurnal+subdiurnal]" }], 25)
    .attr("text-anchor", "middle")
    .attr("transform", "translate(" + p.ylab1 + "," + cy + ") rotate(-90)");
  richText(g, [{ t: "[µmol CO" }, { t: "2", sub: true }, { t: " / µmol photons PAR]" }], 25)
    .attr("text-anchor", "middle")
    .attr("transform", "translate(" + p.ylab2 + "," + cy + ") rotate(-90)");
});
</script>
</body>
</html>
